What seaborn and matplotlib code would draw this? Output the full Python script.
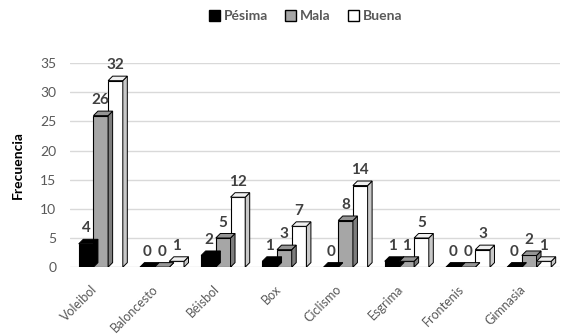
import numpy as np
import pandas as pd
import matplotlib
matplotlib.use("Agg")
import matplotlib.pyplot as plt
import seaborn as sns
from matplotlib.patches import Polygon
from matplotlib.colors import to_rgb
from matplotlib.transforms import ScaledTranslation

deportes = ["Voleibol", "Baloncesto", "Béisbol", "Box", "Ciclismo",
            "Esgrima", "Frontenis", "Gimnasia"]
niveles = ["Pésima", "Mala", "Buena"]
pesima = [4, 0, 2, 1, 0, 1, 0, 0]
mala = [26, 0, 5, 3, 8, 1, 0, 2]
buena = [32, 1, 12, 7, 14, 5, 3, 1]
colores = ["#000000", "#a6a6a6", "#ffffff"]

df = pd.DataFrame({
    "Deporte": deportes * 3,
    "Nivel": [n for n in niveles for _ in deportes],
    "Frecuencia": pesima + mala + buena,
})

sns.set_theme(style="white")
plt.rcParams["font.family"] = ["Lato", "DejaVu Sans"]

fig = plt.figure(figsize=(5.66, 3.36), dpi=100)
ax = fig.add_axes([0.124, 0.205, 0.865, 0.607])

sns.barplot(data=df, x="Deporte", y="Frecuencia", hue="Nivel",
            hue_order=niveles, order=deportes, palette=colores,
            width=0.72, edgecolor="black", linewidth=0.8,
            ax=ax, legend=False, zorder=3)

ax.set_ylim(0, 35)
ax.set_xlim(-0.5, 7.5)
ax.set_yticks(np.arange(0, 36, 5))
ax.yaxis.grid(True, color="#d9d9d9", linewidth=1, zorder=0)
for s in ax.spines.values():
    s.set_visible(False)
ax.tick_params(axis="y", length=0, colors="#595959", labelsize=10, pad=10)
ax.tick_params(axis="x", length=0, colors="#595959", labelsize=9)
shift = ScaledTranslation(-0.10, -0.11, fig.dpi_scale_trans)
for lbl in ax.get_xticklabels():
    lbl.set_rotation(45)
    lbl.set_ha("right")
    lbl.set_rotation_mode("anchor")
    lbl.set_transform(lbl.get_transform() + shift)
ax.set_xlabel("")
ax.set_ylabel("Frecuencia", fontsize=10, fontweight="bold",
              color="black", labelpad=12)

# Oblique depth faces giving the bars a block look
fig.canvas.draw()
p0 = ax.transData.transform((0, 0))
p1 = ax.transData.transform((1, 1))
dx = 4.5 / (p1[0] - p0[0])
dy = 4.5 / (p1[1] - p0[1])


def shade(c, f):
    r, g, b = to_rgb(c)
    return (r * f, g * f, b * f)


for cont, col in zip(ax.containers, colores):
    for bar in cont:
        x0 = bar.get_x()
        w = bar.get_width()
        h = bar.get_height()
        x1 = x0 + w
        side = [(x1, 0), (x1, h), (x1 + dx, h + dy), (x1 + dx, dy)]
        top = [(x0, h), (x1, h), (x1 + dx, h + dy), (x0 + dx, h + dy)]
        sc = shade(col, 0.75) if col != "#ffffff" else "#c8c8c8"
        tc = shade(col, 0.9) if col != "#ffffff" else "#f0f0f0"
        ax.add_patch(Polygon(side, closed=True, facecolor=sc,
                             edgecolor="black", linewidth=0.7, zorder=3))
        ax.add_patch(Polygon(top, closed=True, facecolor=tc,
                             edgecolor="black", linewidth=0.7, zorder=3))
    ax.bar_label(cont, padding=6, fontsize=11, fontweight="bold",
                 color="#404040")

handles = [plt.Rectangle((0, 0), 1, 1, facecolor=c, edgecolor="black",
                         linewidth=1.0) for c in colores]
leg = fig.legend(handles, niveles, loc="center", ncol=3,
                 bbox_to_anchor=(0.54, 0.952), frameon=False,
                 fontsize=10, handlelength=0.8, handleheight=0.8,
                 handletextpad=0.3, columnspacing=1.2)
for t in leg.get_texts():
    t.set_color("#595959")
    t.set_fontweight("bold")

fig.savefig("out.png", dpi=100)
